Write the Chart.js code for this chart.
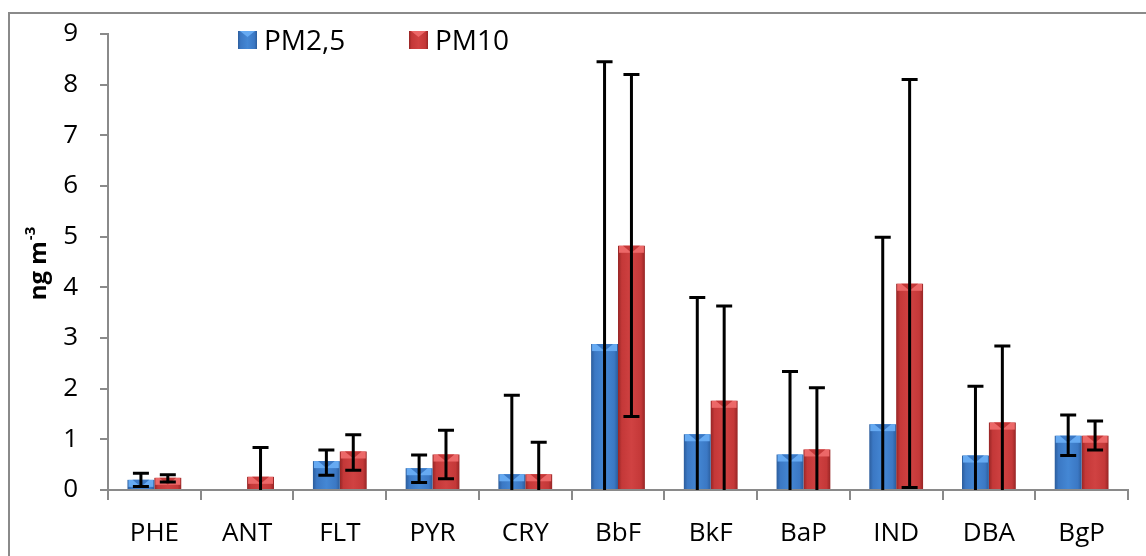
<!DOCTYPE html>
<html>
<head>
<meta charset="utf-8">
<script src="https://cdn.jsdelivr.net/npm/chart.js@4"></script>
<style>
  html, body { margin: 0; padding: 0; background: #fff; }
  #wrap { width: 1146px; height: 556px; }
</style>
</head>
<body>
<div id="wrap"><canvas id="myChart" width="1146" height="556"></canvas></div>
<script>
var categories = ["PHE", "ANT", "FLT", "PYR", "CRY", "BbF", "BkF", "BaP", "IND", "DBA", "BgP"];
var pm25 = [0.20, null, 0.57, 0.43, 0.31, 2.88, 1.10, 0.70, 1.30, 0.68, 1.07];
var pm10 = [0.24, 0.26, 0.76, 0.70, 0.31, 4.82, 1.76, 0.80, 4.07, 1.33, 1.07];
// error bar ends (low / high)
var pm25Low  = [0.07, null, 0.29, 0.15, 0, 0, 0, 0, 0, 0, 0.68];
var pm25High = [0.33, null, 0.79, 0.69, 1.87, 8.45, 3.80, 2.34, 4.99, 2.05, 1.48];
var pm10Low  = [0.16, 0, 0.39, 0.22, 0, 1.45, 0, 0, 0.05, 0, 0.79];
var pm10High = [0.30, 0.84, 1.09, 1.18, 0.94, 8.20, 3.63, 2.02, 8.10, 2.84, 1.36];
var yTicks = [0, 1, 2, 3, 4, 5, 6, 7, 8, 9];

var FONT = "'Open Sans', 'Liberation Sans', sans-serif";
var catPct = 0.58;

var palette = [
  { edge: "#2c5d9c", mid: "#3b78c4", center: "#4487d4", light: "#66aaf2" },
  { edge: "#962525", mid: "#c43838", center: "#d04242", light: "#ec6868" }
];

function barGradient(c, x0, w, p) {
  var g = c.createLinearGradient(x0, 0, x0 + w, 0);
  g.addColorStop(0, p.edge);
  g.addColorStop(0.14, p.mid);
  g.addColorStop(0.5, p.center);
  g.addColorStop(0.86, p.mid);
  g.addColorStop(1, p.edge);
  return g;
}

function barFill(ctx) {
  var chart = ctx.chart;
  var p = palette[ctx.datasetIndex];
  var xs = chart.scales.x;
  if (!chart.chartArea || !xs) return p.mid;
  var w = xs.width / categories.length * catPct / 2;
  var cx = xs.getPixelForValue(ctx.dataIndex);
  var x0 = ctx.datasetIndex === 0 ? cx - w : cx;
  return barGradient(chart.ctx, x0, w, p);
}

var lows = [pm25Low, pm10Low];
var highs = [pm25High, pm10High];

var decorations = {
  id: "decorations",
  beforeDraw: function (chart) {
    var c = chart.ctx;
    c.save();
    c.strokeStyle = "#8a8a8a";
    c.lineWidth = 2;
    c.strokeRect(9, 13, 1200, 600);
    c.restore();
  },
  afterDatasetsDraw: function (chart) {
    var c = chart.ctx;
    var ys = chart.scales.y;
    c.save();
    // bevel on bar tops
    chart.data.datasets.forEach(function (ds, di) {
      var p = palette[di];
      chart.getDatasetMeta(di).data.forEach(function (bar, i) {
        if (ds.data[i] == null || ds.data[i] <= 0) return;
        var w = bar.width, x0 = bar.x - w / 2, top = bar.y;
        var h = 7;
        c.fillStyle = p.light;
        c.fillRect(x0 + 1, top, w - 2, h);
        c.fillStyle = p.mid;
        c.beginPath();
        c.moveTo(x0 + 5, top);
        c.lineTo(x0 + w - 5, top);
        c.lineTo(bar.x, top + h);
        c.closePath();
        c.fill();
      });
    });
    // error bars
    c.strokeStyle = "#000";
    c.lineWidth = 3;
    chart.data.datasets.forEach(function (ds, di) {
      chart.getDatasetMeta(di).data.forEach(function (bar, i) {
        var lo = lows[di][i], hi = highs[di][i];
        if (lo == null || hi == null) return;
        var x = bar.x;
        var yLo = ys.getPixelForValue(lo), yHi = ys.getPixelForValue(hi);
        c.beginPath();
        c.moveTo(x, yLo);
        c.lineTo(x, yHi);
        c.moveTo(x - 8, yHi);
        c.lineTo(x + 8, yHi);
        if (lo > 0) {
          c.moveTo(x - 8, yLo);
          c.lineTo(x + 8, yLo);
        }
        c.stroke();
      });
    });
    c.restore();
  },
  afterDraw: function (chart) {
    var c = chart.ctx;
    c.save();
    // legend
    var items = [
      { text: "PM2,5", x: 238, p: palette[0] },
      { text: "PM10", x: 409, p: palette[1] }
    ];
    items.forEach(function (it) {
      c.fillStyle = barGradient(c, it.x, 19, it.p);
      c.fillRect(it.x, 31, 19, 18);
      c.fillStyle = it.p.light;
      c.beginPath();
      c.moveTo(it.x + 2, 31);
      c.lineTo(it.x + 17, 31);
      c.lineTo(it.x + 9.5, 37);
      c.closePath();
      c.fill();
      c.fillStyle = "#000";
      c.font = "28px " + FONT;
      c.textBaseline = "middle";
      c.textAlign = "left";
      c.fillText(it.text, it.x + 26, 42);
    });
    // y axis title with superscript
    c.translate(46, 264);
    c.rotate(-Math.PI / 2);
    c.fillStyle = "#000";
    c.textBaseline = "alphabetic";
    c.font = "bold 24px " + FONT;
    var main = "ng m";
    var mw = c.measureText(main).width;
    c.font = "bold 15px " + FONT;
    var sup = "-3";
    var sw = c.measureText(sup).width;
    var start = -(mw + sw) / 2;
    c.font = "bold 24px " + FONT;
    c.textAlign = "left";
    c.fillText(main, start, 0);
    c.font = "bold 15px " + FONT;
    c.fillText(sup, start + mw + 1, -11);
    c.restore();
  }
};

var ctx = document.getElementById("myChart");

var myChart = new Chart(ctx, {
  type: "bar",
  data: {
    labels: categories,
    datasets: [{
      label: "PM2,5",
      data: pm25,
      backgroundColor: barFill,
      borderWidth: 0
    }, {
      label: "PM10",
      data: pm10,
      backgroundColor: barFill,
      borderWidth: 0
    }]
  },
  options: {
    responsive: false,
    animation: false,
    layout: { padding: { top: 34, right: 18, left: 0, bottom: 0 } },
    datasets: {
      bar: { categoryPercentage: catPct, barPercentage: 1 }
    },
    plugins: {
      legend: { display: false },
      tooltip: { enabled: false }
    },
    scales: {
      x: {
        offset: true,
        grid: {
          offset: true,
          drawOnChartArea: false,
          drawTicks: true,
          tickLength: 10,
          color: "#8a8a8a",
          lineWidth: 2
        },
        border: { color: "#8a8a8a", width: 2 },
        ticks: {
          color: "#000",
          padding: 18,
          font: { family: FONT, size: 26 }
        },
        afterFit: function (s) { s.height = 66; s.paddingLeft = 0; s.paddingRight = 0; }
      },
      y: {
        min: 0,
        max: 9,
        afterBuildTicks: function (s) { s.ticks = yTicks.map(function (v) { return { value: v }; }); },
        grid: {
          drawOnChartArea: false,
          drawTicks: true,
          tickLength: 8,
          color: "#8a8a8a",
          lineWidth: 2
        },
        border: { color: "#8a8a8a", width: 2 },
        ticks: {
          color: "#000",
          padding: 22,
          font: { family: FONT, size: 26 }
        },
        afterFit: function (s) { s.width = 108; s.paddingTop = 0; s.paddingBottom = 0; }
      }
    }
  },
  plugins: [decorations]
});
</script>
</body>
</html>
